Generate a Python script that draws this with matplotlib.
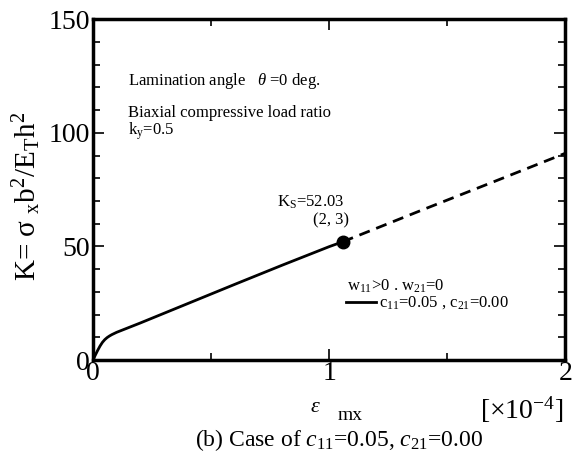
import numpy as np
import matplotlib
matplotlib.use('Agg')
from matplotlib import pyplot as plt
from matplotlib.ticker import MultipleLocator

plt.rcParams['font.family'] = ['Liberation Serif', 'DejaVu Serif']
plt.rcParams['mathtext.fontset'] = 'custom'
plt.rcParams['mathtext.rm'] = 'Liberation Serif'
plt.rcParams['mathtext.it'] = 'Liberation Serif:italic'

# stable branch (solid) and post-buckling extension (dashed), eps in 1e-4
eps_solid = [0.0, 0.01, 0.02, 0.03, 0.04, 0.05, 0.06, 0.07, 0.08, 0.10, 0.20, 0.40, 0.60, 0.80, 1.00, 1.057]
K_solid = [0.0, 2.2, 4.3, 6.2, 7.8, 9.0, 9.9, 10.6, 11.2, 12.2, 16.3, 24.8, 33.3, 41.7, 49.9, 52.03]
eps_dash = [1.057, 1.40, 1.70, 2.00]
K_dash = [52.03, 66.3, 78.6, 91.0]
eps_s = 1.057
K_s = 52.03

fig, ax = plt.subplots(figsize=(5.74, 4.67), dpi=100)
fig.subplots_adjust(left=0.162, right=0.985, top=0.959, bottom=0.229)

ax.plot(eps_solid, K_solid, color='black', linewidth=2)
ax.plot(eps_dash, K_dash, color='black', linewidth=2, dashes=[4, 2.5])
ax.plot([eps_s], [K_s], 'o', color='black', markersize=9)

ax.set_xlim(0, 2)
ax.set_ylim(0, 150)
ax.xaxis.set_major_locator(MultipleLocator(1))
ax.xaxis.set_minor_locator(MultipleLocator(0.5))
ax.yaxis.set_major_locator(MultipleLocator(50))
ax.yaxis.set_minor_locator(MultipleLocator(10))
ax.tick_params(which='both', direction='in', top=True, right=True, labelsize=20)
ax.tick_params(axis='y', pad=2)
ax.tick_params(axis='x', pad=1)
ax.tick_params(which='major', length=8, width=1.2)
ax.tick_params(which='minor', length=5, width=1.2)
for s in ax.spines.values():
    s.set_linewidth(2.5)

ax.text(0.147, 123, r'Lamination angle   $\theta$ =0 deg.', fontsize=12, va='center')
ax.text(0.147, 108.5, 'Biaxial compressive load ratio', fontsize=12, va='center')
ax.text(0.147, 100.5, r'k$_{\rm y}$=0.5', fontsize=12, va='center')

ax.text(0.78, 69.5, r'K$_{\rm S}$=52.03', fontsize=12, va='center')
ax.text(0.93, 61.5, '(2, 3)', fontsize=12, va='center')

ax.text(1.075, 32.5, r'w$_{11}$>0 . w$_{21}$=0', fontsize=12, va='center')
ax.plot([1.07, 1.20], [25.5, 25.5], color='black', linewidth=2)
ax.text(1.21, 25.5, r'c$_{11}$=0.05 , c$_{21}$=0.00', fontsize=12, va='center')

ax.set_ylabel(r'K= $\mathrm{\sigma}$ $_{\rm x}$b$^2$/E$_{\rm T}$h$^2$', fontsize=21)
ax.yaxis.set_label_coords(-0.105, 0.48)
fig.text(0.549, 0.128, r'$\epsilon$', fontsize=16, ha='center', va='center')
fig.text(0.61, 0.11, 'mx', fontsize=14, ha='center', va='center')
fig.text(0.982, 0.122, r'[$\times$10$^{-4}$]', fontsize=20, ha='right', va='center')
fig.text(0.59, 0.058, r'(b) Case of $c_{11}$=0.05, $c_{21}$=0.00', fontsize=17, ha='center', va='center')

plt.savefig('out.png', dpi=100)
